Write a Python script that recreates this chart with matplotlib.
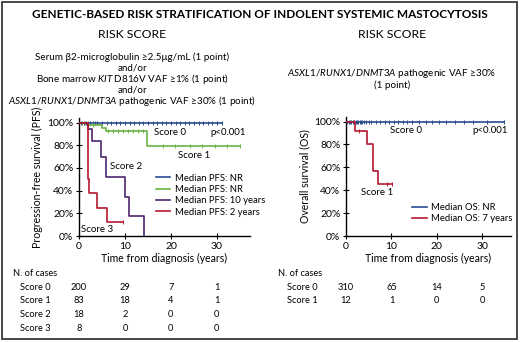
import matplotlib
matplotlib.use("Agg")
import matplotlib.pyplot as plt
from matplotlib.patches import Rectangle
from matplotlib.ticker import FuncFormatter

plt.rcParams['font.family'] = ['Lato', 'DejaVu Sans']
plt.rcParams['mathtext.fontset'] = 'custom'
plt.rcParams['mathtext.rm'] = 'Lato'
plt.rcParams['mathtext.it'] = 'Lato:italic'

BLUE = "#2b4c8f"
GREEN = "#6ab344"
PURPLE = "#4e2570"
RED = "#b5172f"

# --- PFS curves (years, survival %) ---
pfs_s0_t = [0, 31.2]
pfs_s0_s = [100, 100]
pfs_s0_cens = [0.5, 1, 1.5, 2, 2.5, 3, 3.5, 4, 5, 6, 7, 8, 9, 10, 11, 12, 13, 14, 15,
               16, 17, 18, 19, 20, 21, 22, 23, 24, 25, 26, 27, 28, 29, 30, 31.2]

pfs_s1_t = [0, 2.0, 4.9, 5.9, 14.7, 35.1]
pfs_s1_s = [100, 98, 95.5, 92.3, 79, 79]
pfs_s1_cens = [0.6, 1.2, 3, 6.4, 7.5, 8.5, 9.6, 10.7, 11.8, 12.8, 13.9,
               18.3, 20.9, 24.1, 26.7, 29.6, 32.2, 35.1]

pfs_s2_t = [0, 1.9, 2.9, 4.7, 5.9, 10.0, 10.8, 14.2]
pfs_s2_s = [100, 94.4, 83.3, 69.4, 52, 34.7, 17.4, 0]
pfs_s2_cens = []

pfs_s3_t = [0, 1.9, 2.2, 3.9, 6.0, 9.5]
pfs_s3_s = [100, 50, 37.5, 25, 12.5, 12.5]
pfs_s3_cens = [9.5]

pfs_labels = ["Median PFS: NR", "Median PFS: NR",
              "Median PFS: 10 years", "Median PFS: 2 years"]

# --- OS curves ---
os_s0_t = [0, 34.7]
os_s0_s = [100, 100]
os_s0_cens = [0.3, 0.6, 0.9, 1.2, 1.5, 1.8, 2.1, 2.4, 2.7, 3.0, 3.3, 3.6, 4.0, 4.5,
              5.0, 5.6, 6.5, 7.5, 8.5, 9.5, 10.5, 11.5, 12.5, 13.5, 14.5, 16, 17.5,
              19, 20.5, 22, 24, 26, 28, 31, 34.7]
os_s1_t = [0, 2.0, 4.6, 5.9, 7.0, 10.1]
os_s1_s = [100, 91.7, 80, 57, 45.5, 45.5]
os_s1_cens = [1.8, 2.9, 9.0, 10.1]

os_labels = ["Median OS: NR", "Median OS: 7 years"]

# --- numbers at risk ---
risk_times = [0, 10, 20, 30]
pfs_rows = ["Score 0", "Score 1", "Score 2", "Score 3"]
pfs_risk = [[200, 29, 7, 1], [83, 18, 4, 1], [18, 2, 0, 0], [8, 0, 0, 0]]
os_rows = ["Score 0", "Score 1"]
os_risk = [[310, 65, 14, 5], [12, 1, 0, 0]]

W, H = 520, 342
fig = plt.figure(figsize=(W / 100, H / 100), dpi=100)


def fx(px):
    return px / W


def fy(py):
    return 1 - py / H


def km(ax, t, s, cens, color, label):
    ax.step(t, s, where='post', color=color, lw=1.2, label=label, zorder=3)
    cy = []
    for c in cens:
        v = s[0]
        for ti, si in zip(t, s):
            if ti <= c:
                v = si
        cy.append(v)
    if cens:
        ax.plot(cens, cy, ls='none', marker='|', ms=3, mew=0.7, color=color, zorder=3)


def style_axes(ax, ylabel, xmax):
    ax.set_xlim(0, xmax)
    ax.set_ylim(0, 104)
    ax.set_xticks([0, 10, 20, 30])
    ax.set_yticks([0, 20, 40, 60, 80, 100])
    ax.yaxis.set_major_formatter(FuncFormatter(lambda v, p: f"{int(v)}%"))
    for sp in ['top', 'right']:
        ax.spines[sp].set_visible(False)
    for sp in ['left', 'bottom']:
        ax.spines[sp].set_linewidth(1.0)
    ax.tick_params(direction='inout', length=4, width=0.8, labelsize=7.5, pad=2)
    ax.set_xlabel("Time from diagnosis (years)", fontsize=7.6, labelpad=2)
    ax.set_ylabel(ylabel, fontsize=7.6, labelpad=3)


# left panel
ax1 = fig.add_axes([fx(79), fy(236), fx(250 - 79), (236 - 118) / H])
km(ax1, pfs_s0_t, pfs_s0_s, pfs_s0_cens, BLUE, pfs_labels[0])
km(ax1, pfs_s1_t, pfs_s1_s, pfs_s1_cens, GREEN, pfs_labels[1])
km(ax1, pfs_s2_t, pfs_s2_s, pfs_s2_cens, PURPLE, pfs_labels[2])
km(ax1, pfs_s3_t, pfs_s3_s, pfs_s3_cens, RED, pfs_labels[3])
style_axes(ax1, "Progression-free survival (PFS)", 37.2)
ax1.text(19.8, 91, "Score 0", fontsize=7, ha='center', va='center')
ax1.text(32.4, 91, "p<0.001", fontsize=7, ha='center', va='center')
ax1.text(25, 71, "Score 1", fontsize=7, ha='center', va='center')
ax1.text(10.2, 61, "Score 2", fontsize=7, ha='center', va='center')
ax1.text(4.0, 6, "Score 3", fontsize=7, ha='center', va='center')
ax1.legend(loc='upper left', bbox_to_anchor=(0.43, 0.56), frameon=False,
           fontsize=6.8, handlelength=1.5, handletextpad=0.5, labelspacing=0.25,
           borderaxespad=0)

# right panel
ax2 = fig.add_axes([fx(346), fy(236), fx(511 - 346), (236 - 117) / H])
km(ax2, os_s0_t, os_s0_s, os_s0_cens, BLUE, os_labels[0])
km(ax2, os_s1_t, os_s1_s, os_s1_cens, RED, os_labels[1])
style_axes(ax2, "Overall survival (OS)", 36.3)
ax2.text(13.2, 92, "Score 0", fontsize=7, ha='center', va='center')
ax2.text(31.7, 92, "p<0.001", fontsize=7, ha='center', va='center')
ax2.text(6.8, 38, "Score 1", fontsize=7, ha='center', va='center')
ax2.legend(loc='upper left', bbox_to_anchor=(0.38, 0.31), frameon=False,
           fontsize=6.8, handlelength=1.5, handletextpad=0.5, labelspacing=0.25,
           borderaxespad=0)

# header texts
fig.text(0.5, fy(14), "GENETIC-BASED RISK STRATIFICATION OF INDOLENT SYSTEMIC MASTOCYTOSIS",
         ha='center', va='center', fontsize=8.5, fontweight='bold')
fig.text(fx(132), fy(34), "RISK SCORE", ha='center', va='center', fontsize=8.8)
fig.text(fx(392), fy(34), "RISK SCORE", ha='center', va='center', fontsize=8.8)

left_lines = ["Serum β2-microglobulin ≥2.5μg/mL (1 point)",
              "and/or",
              r"Bone marrow $\mathit{KIT}$ D816V VAF ≥1% (1 point)",
              "and/or",
              r"$\mathit{ASXL1/RUNX1/DNMT3A}$ pathogenic VAF ≥30% (1 point)"]
for i, line in enumerate(left_lines):
    fig.text(fx(132), fy(57 + 11 * i), line, ha='center', va='center', fontsize=7.1)

right_lines = [r"$\mathit{ASXL1/RUNX1/DNMT3A}$ pathogenic VAF ≥30%", "(1 point)"]
for i, line in enumerate(right_lines):
    fig.text(fx(392), fy(74 + 11 * i), line, ha='center', va='center', fontsize=7.1)

# numbers at risk tables
fs_tab = 6.7
fig.text(fx(13), fy(273), "N. of cases", ha='left', va='center', fontsize=fs_tab)
for r, (name, vals) in enumerate(zip(pfs_rows, pfs_risk)):
    yy = fy(287 + 13.7 * r)
    fig.text(fx(20), yy, name, ha='left', va='center', fontsize=fs_tab)
    for t, v in zip(risk_times, vals):
        x = ax1.transData.transform((t, 0))[0] / fig.bbox.width
        fig.text(x, yy, str(v), ha='center', va='center', fontsize=fs_tab)

fig.text(fx(278), fy(273), "N. of cases", ha='left', va='center', fontsize=fs_tab)
for r, (name, vals) in enumerate(zip(os_rows, os_risk)):
    yy = fy(287 + 13.7 * r)
    fig.text(fx(287), yy, name, ha='left', va='center', fontsize=fs_tab)
    for t, v in zip(risk_times, vals):
        x = ax2.transData.transform((t, 0))[0] / fig.bbox.width
        fig.text(x, yy, str(v), ha='center', va='center', fontsize=fs_tab)

# outer frame
fig.patches.append(Rectangle((fx(1.5), fy(339)), fx(517 - 1.5), (339 - 2) / H,
                             transform=fig.transFigure, fill=False,
                             ec='#3a3a3a', lw=1.3))

fig.savefig("out.png", dpi=100)
